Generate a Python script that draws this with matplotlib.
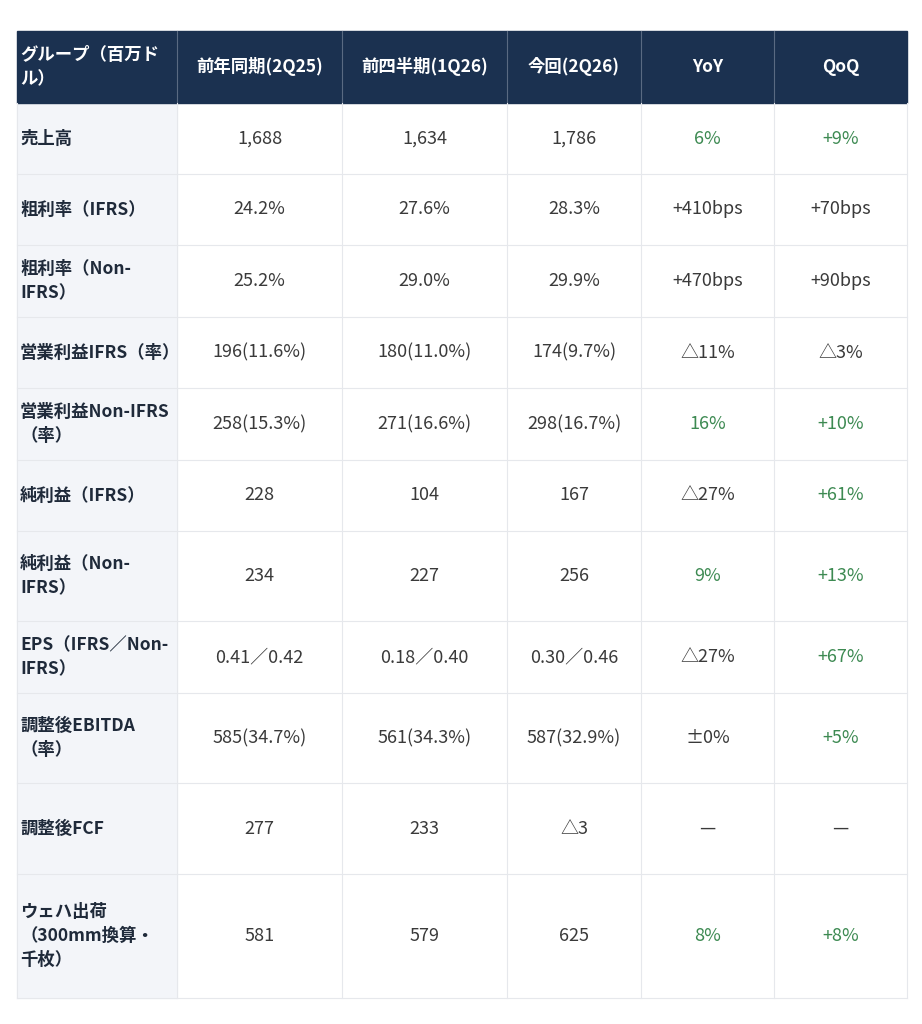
import matplotlib
matplotlib.use("Agg")
import matplotlib.pyplot as plt
from matplotlib.patches import Rectangle

plt.rcParams["font.family"] = ["Noto Sans CJK JP", "DejaVu Sans"]

HEADERS = ["グループ（百万ド\nル）", "前年同期(2Q25)", "前四半期(1Q26)", "今回(2Q26)", "YoY", "QoQ"]
ROW_LABELS = [
    "売上高", "粗利率（IFRS）", "粗利率（Non-\nIFRS）", "営業利益IFRS（率）",
    "営業利益Non-IFRS\n（率）", "純利益（IFRS）", "純利益（Non-\nIFRS）",
    "EPS（IFRS／Non-\nIFRS）", "調整後EBITDA\n（率）", "調整後FCF",
    "ウェハ出荷\n（300mm換算・\n千枚）",
]
PREV_YEAR = ["1,688", "24.2%", "25.2%", "196(11.6%)", "258(15.3%)", "228", "234",
             "0.41／0.42", "585(34.7%)", "277", "581"]
PREV_QTR = ["1,634", "27.6%", "29.0%", "180(11.0%)", "271(16.6%)", "104", "227",
            "0.18／0.40", "561(34.3%)", "233", "579"]
CURRENT = ["1,786", "28.3%", "29.9%", "174(9.7%)", "298(16.7%)", "167", "256",
           "0.30／0.46", "587(32.9%)", "△3", "625"]
YOY = ["6%", "+410bps", "+470bps", "△11%", "16%", "△27%", "9%", "△27%", "±0%", "—", "8%"]
QOQ = ["+9%", "+70bps", "+90bps", "△3%", "+10%", "+61%", "+13%", "+67%", "+5%", "—", "+8%"]
# green highlight for positive growth cells
YOY_GREEN = [True, False, False, False, True, False, True, False, False, False, True]
QOQ_GREEN = [True, False, False, False, True, True, True, True, True, False, True]

# layout (pixels)
COL_X = [17, 177, 342, 507, 641, 774, 907]
ROW_Y = [31, 103, 174, 245, 317, 388, 460, 531, 621, 693, 783, 874, 998]

NAVY = "#1b3150"
LABEL_BG = "#f3f5f9"
GRID = "#e6e8ec"
TEXT = "#3a3a3a"
GREEN = "#3d8a52"

fig = plt.figure(figsize=(9.22, 10.24), dpi=100)
ax = fig.add_axes([0, 0, 1, 1])
ax.set_xlim(0, 922)
ax.set_ylim(1024, 0)
ax.axis("off")

# header
ax.add_patch(Rectangle((COL_X[0], ROW_Y[0]), COL_X[-1] - COL_X[0], ROW_Y[1] - ROW_Y[0],
                       color=NAVY, zorder=1))
for i, h in enumerate(HEADERS):
    yc = (ROW_Y[0] + ROW_Y[1]) / 2
    if i == 0:
        ax.text(COL_X[0] + 3, yc, h, ha="left", va="center", color="white",
                fontsize=12.5, fontweight="bold", linespacing=1.45, zorder=3)
    else:
        ax.text((COL_X[i] + COL_X[i + 1]) / 2, yc, h, ha="center", va="center",
                color="white", fontsize=12.5, fontweight="bold", zorder=3)
    if i > 0:
        ax.plot([COL_X[i]] * 2, [ROW_Y[0], ROW_Y[1]], color="#5a6a82", lw=0.8, zorder=2)

# body
ax.add_patch(Rectangle((COL_X[0], ROW_Y[1]), COL_X[1] - COL_X[0], ROW_Y[-1] - ROW_Y[1],
                       color=LABEL_BG, zorder=0))
columns = [PREV_YEAR, PREV_QTR, CURRENT, YOY, QOQ]
greens = [None, None, None, YOY_GREEN, QOQ_GREEN]
for r, label in enumerate(ROW_LABELS):
    y0, y1 = ROW_Y[r + 1], ROW_Y[r + 2]
    yc = (y0 + y1) / 2
    ax.text(COL_X[0] + 3, yc, label, ha="left", va="center", color="#1f2a3a",
            fontsize=12.5, fontweight="bold", linespacing=1.45, zorder=3)
    for c, vals in enumerate(columns):
        color = GREEN if greens[c] is not None and greens[c][r] else TEXT
        ax.text((COL_X[c + 1] + COL_X[c + 2]) / 2, yc, vals[r], ha="center", va="center",
                color=color, fontsize=13, zorder=3)
    ax.plot([COL_X[0], COL_X[-1]], [y1, y1], color=GRID, lw=0.8, zorder=2)

for x in COL_X[1:]:
    ax.plot([x, x], [ROW_Y[1], ROW_Y[-1]], color=GRID, lw=0.8, zorder=2)
ax.plot([COL_X[0]] * 2, [ROW_Y[1], ROW_Y[-1]], color=GRID, lw=0.8, zorder=2)

fig.savefig("out.png", dpi=100)
